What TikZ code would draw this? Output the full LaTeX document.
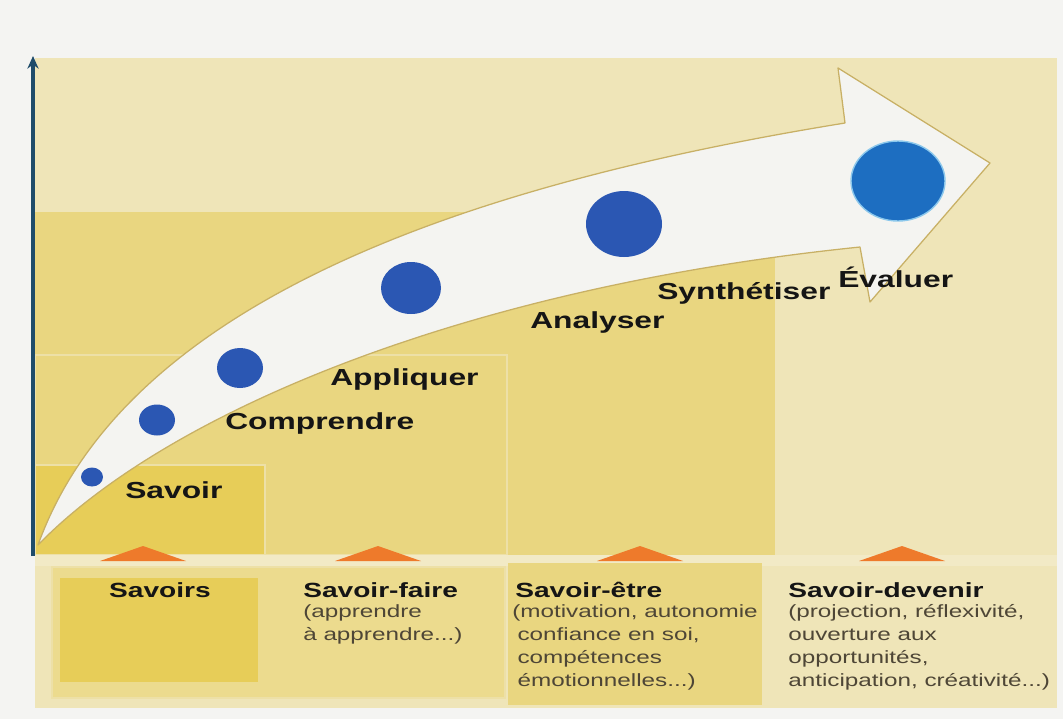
\documentclass[tikz,border=0pt]{standalone}
\usepackage{fontspec}
\setmainfont{Liberation Sans}[FakeStretch=1.37]
\usepackage{xcolor}
\usepackage{tikz}
\usetikzlibrary{arrows.meta,shapes.geometric}
\definecolor{paper}{HTML}{F4F4F2}
\definecolor{pale}{HTML}{EFE5B8}
\definecolor{mid}{HTML}{E9D680}
\definecolor{deep}{HTML}{E7CD58}
\definecolor{band}{HTML}{F2EAC6}
\definecolor{panel}{HTML}{ECDB8E}
\definecolor{axis}{HTML}{1F4C6A}
\definecolor{rim}{HTML}{C8B065}
\definecolor{shaft}{HTML}{F4F4F1}
\definecolor{bead}{HTML}{2B57B3}
\definecolor{beadhi}{HTML}{1D6EC1}
\definecolor{halo}{HTML}{8CC8EC}
\definecolor{peak}{HTML}{EE7A2B}
\definecolor{ink}{HTML}{151515}
\definecolor{body}{HTML}{4E4636}
\tikzset{
  zone/.style={draw=pale!70!mid, line width=1.2pt},
  lvl/.style={text=ink, font=\bfseries\fontsize{16.5}{19}\selectfont, anchor=west, inner sep=0pt},
  head/.style={text=ink, font=\bfseries\fontsize{14.6}{17}\selectfont, anchor=west, inner sep=0pt},
  note/.style={text=body, font=\fontsize{12.6}{16.4}\selectfont, align=left, anchor=north west, inner sep=0pt},
  dot/.style 2 args={ellipse, fill=bead, inner sep=0pt, minimum width=#1*0.25mm, minimum height=#2*0.25mm},
  peakmark/.style={fill=peak}
}

\begin{document}
\begin{tikzpicture}[x=0.25mm, y=-0.25mm]
  % page
  \fill[paper] (0,0) rectangle (1063,719);
  \useasboundingbox (0,0) rectangle (1063,719);
  \fill[pale] (35,58) rectangle (1057,708);
  % levels behind the arrow
  \fill[mid] (35,212) rectangle (775,555);
  \filldraw[zone, fill=mid] (35,355) rectangle (507,555);
  \filldraw[zone, fill=deep] (35,465) rectangle (265,555);
  % bottom panel
  \fill[band] (35,555) rectangle (1057,566);
  \filldraw[zone, fill=panel] (52,567) rectangle (505,698);
  \fill[deep] (60,578) rectangle (258,682);
  \fill[mid] (508,563) rectangle (762,705);
  \fill[peakmark] (100,561) -- (143,546) -- (186,561) -- cycle;
  \fill[peakmark] (335,561) -- (378,546) -- (421,561) -- cycle;
  \fill[peakmark] (597,561) -- (640,546) -- (683,561) -- cycle;
  \fill[peakmark] (859,561) -- (902,546) -- (945,561) -- cycle;
  % vertical axis
  \coordinate (origin) at (33,556);
  \coordinate (top) at (33,56);
  \draw[axis, line width=2.6pt, -{Stealth[length=9pt,width=8pt]}] (origin) -- (top);
  % curved arrow
  \filldraw[draw=rim, line width=0.9pt, fill=shaft, line join=round]
    (38,545) .. controls (130,289) and (500,179) .. (845,123)
    -- (838,68) -- (990,163) -- (870,302) -- (860,247)
    .. controls (450,289) and (160,419) .. cycle;
  % dots along the arrow
  \node[dot={22}{19}] (d1) at (92,477) {};
  \node[dot={36}{31}] (d2) at (157,420) {};
  \node[dot={46}{40}] (d3) at (240,368) {};
  \node[dot={60}{52}] (d4) at (411,288) {};
  \node[dot={76}{66}] (d5) at (624,224) {};
  \node[dot={94}{80}, fill=beadhi, draw=halo, line width=1pt] (d6) at (898,181) {};
  % level names
  \node[lvl] (savoir) at (125,490) {Savoir};
  \node[lvl] (comprendre) at (225,423) {Comprendre};
  \node[lvl] (appliquer) at (330,379) {Appliquer};
  \node[lvl] (analyser) at (530,322) {Analyser};
  \node[lvl] (synth) at (657,293) {Synthétiser};
  \node[lvl] (evaluer) at (838,277) {Évaluer};
  % kinds of knowledge
  \node[head, anchor=center] (savoirs) at (160,590) {Savoirs};
  \node[head] (faire) at (303,590) {Savoir-faire};
  \node[note] (faire-txt) at (303,604) {(apprendre\\à apprendre...)};
  \node[head] (etre) at (515,590) {Savoir-être};
  \node[note] (etre-txt) at (512,604) {(motivation, autonomie\\\hspace*{0.3em}confiance en soi,\\\hspace*{0.3em}compétences\\\hspace*{0.3em}émotionnelles...)};
  \node[head] (devenir) at (788,590) {Savoir-devenir};
  \node[note] (devenir-txt) at (788,604) {(projection, réflexivité,\\ouverture aux\\opportunités,\\anticipation, créativité...)};
\end{tikzpicture}
\end{document}
